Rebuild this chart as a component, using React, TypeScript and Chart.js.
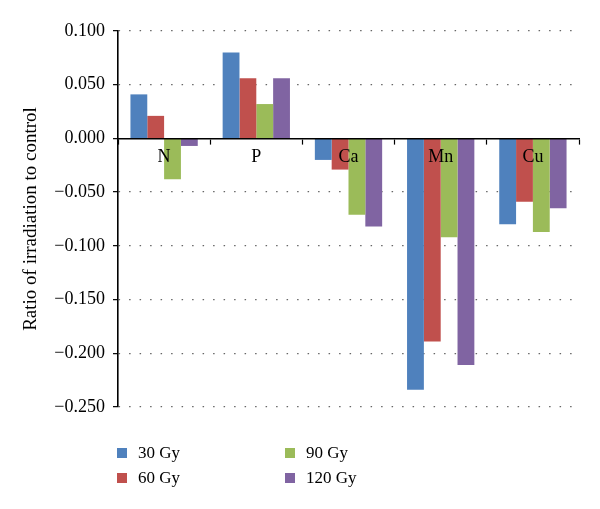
import React, { useEffect, useRef } from "react";
import { Chart, registerables } from "chart.js";

Chart.register(...registerables);

const categories = ["N", "P", "Ca", "Mn", "Cu"];
const seriesNames = ["30 Gy", "60 Gy", "90 Gy", "120 Gy"];
const seriesColors = ["#4F81BD", "#C0504D", "#9BBB59", "#8064A2"];
const gy30 = [0.041, 0.080, -0.020, -0.234, -0.080];
const gy60 = [0.021, 0.056, -0.029, -0.189, -0.059];
const gy90 = [-0.038, 0.032, -0.071, -0.092, -0.087];
const gy120 = [-0.007, 0.056, -0.082, -0.211, -0.065];
const seriesValues = [gy30, gy60, gy90, gy120];
const yMin = -0.25;
const yMax = 0.1;
const yStep = 0.05;
const yTitle = "Ratio of irradiation to control";

const FONT = "'Liberation Serif', 'DejaVu Serif', serif";

// legend layout: column-major order (30, 60 | 90, 120)
const legendPos = [
  { left: 117, top: 453 },
  { left: 117, top: 478 },
  { left: 285, top: 453 },
  { left: 285, top: 478 },
];

export default function App() {
  const ref = useRef<HTMLCanvasElement | null>(null);

  useEffect(() => {
    if (!ref.current) return;
    const chart = new Chart(ref.current, {
      type: "bar",
      data: {
        labels: categories,
        datasets: seriesNames.map((name, i) => ({
          label: name,
          data: seriesValues[i],
          backgroundColor: seriesColors[i],
          borderWidth: 0,
          categoryPercentage: 0.73,
          barPercentage: 1,
        })),
      },
      options: {
        responsive: false,
        animation: false,
        layout: { padding: { left: 12, top: 31, right: 21, bottom: 102 } },
        plugins: {
          legend: { display: false },
          tooltip: { enabled: false },
        },
        scales: {
          x: {
            position: { y: 0 } as any,
            offset: true,
            z: 1,
            grid: {
              offset: true,
              drawOnChartArea: false,
              drawTicks: true,
              tickLength: 5,
              tickColor: "#000",
              tickWidth: 1.2,
              z: 1,
            },
            border: { color: "#000", width: 1.6, z: 1 },
            ticks: {
              color: "#000",
              font: { family: FONT, size: 18 },
              padding: 3,
              maxRotation: 0,
              z: 2,
            },
          } as any,
          y: {
            min: yMin,
            max: yMax,
            afterFit: (scale: any) => {
              scale.width = 106;
            },
            ticks: {
              stepSize: yStep,
              color: "#000",
              padding: 8,
              font: { family: FONT, size: 18 },
              callback: (v: any) => {
                const n = Number(v);
                const s = Math.abs(n).toFixed(3);
                return n < -1e-9 ? "\u2212" + s : s;
              },
            },
            grid: {
              color: (ctx: any) =>
                ctx.tick && Math.abs(ctx.tick.value) < 1e-9 ? "rgba(0,0,0,0)" : "#666",
              lineWidth: 1.3,
              tickColor: "#000",
              tickBorderDash: [],
              tickLength: 5,
              tickWidth: 1.2,
            } as any,
            border: { color: "#000", width: 1.6, dash: [1.5, 9] },
            title: {
              display: true,
              text: yTitle,
              color: "#000",
              font: { family: FONT, size: 19 },
              padding: { top: 8, bottom: 0 },
            },
          },
        },
      },
    });
    return () => chart.destroy();
  }, []);

  return (
    <div
      style={{
        position: "fixed",
        left: 0,
        top: 0,
        width: 600,
        height: 509,
        background: "#fff",
      }}
    >
      <canvas ref={ref} width={600} height={509} style={{ display: "block" }} />
      {seriesNames.map((name, i) => (
        <div
          key={name}
          style={{
            position: "absolute",
            left: legendPos[i].left,
            top: legendPos[i].top - 10,
            height: 20,
            display: "flex",
            alignItems: "center",
            fontFamily: FONT,
            fontSize: 17,
            color: "#000",
            whiteSpace: "nowrap",
          }}
        >
          <span
            style={{
              display: "inline-block",
              width: 10,
              height: 10,
              background: seriesColors[i],
              marginRight: 11,
            }}
          />
          <span>{name}</span>
        </div>
      ))}
    </div>
  );
}
